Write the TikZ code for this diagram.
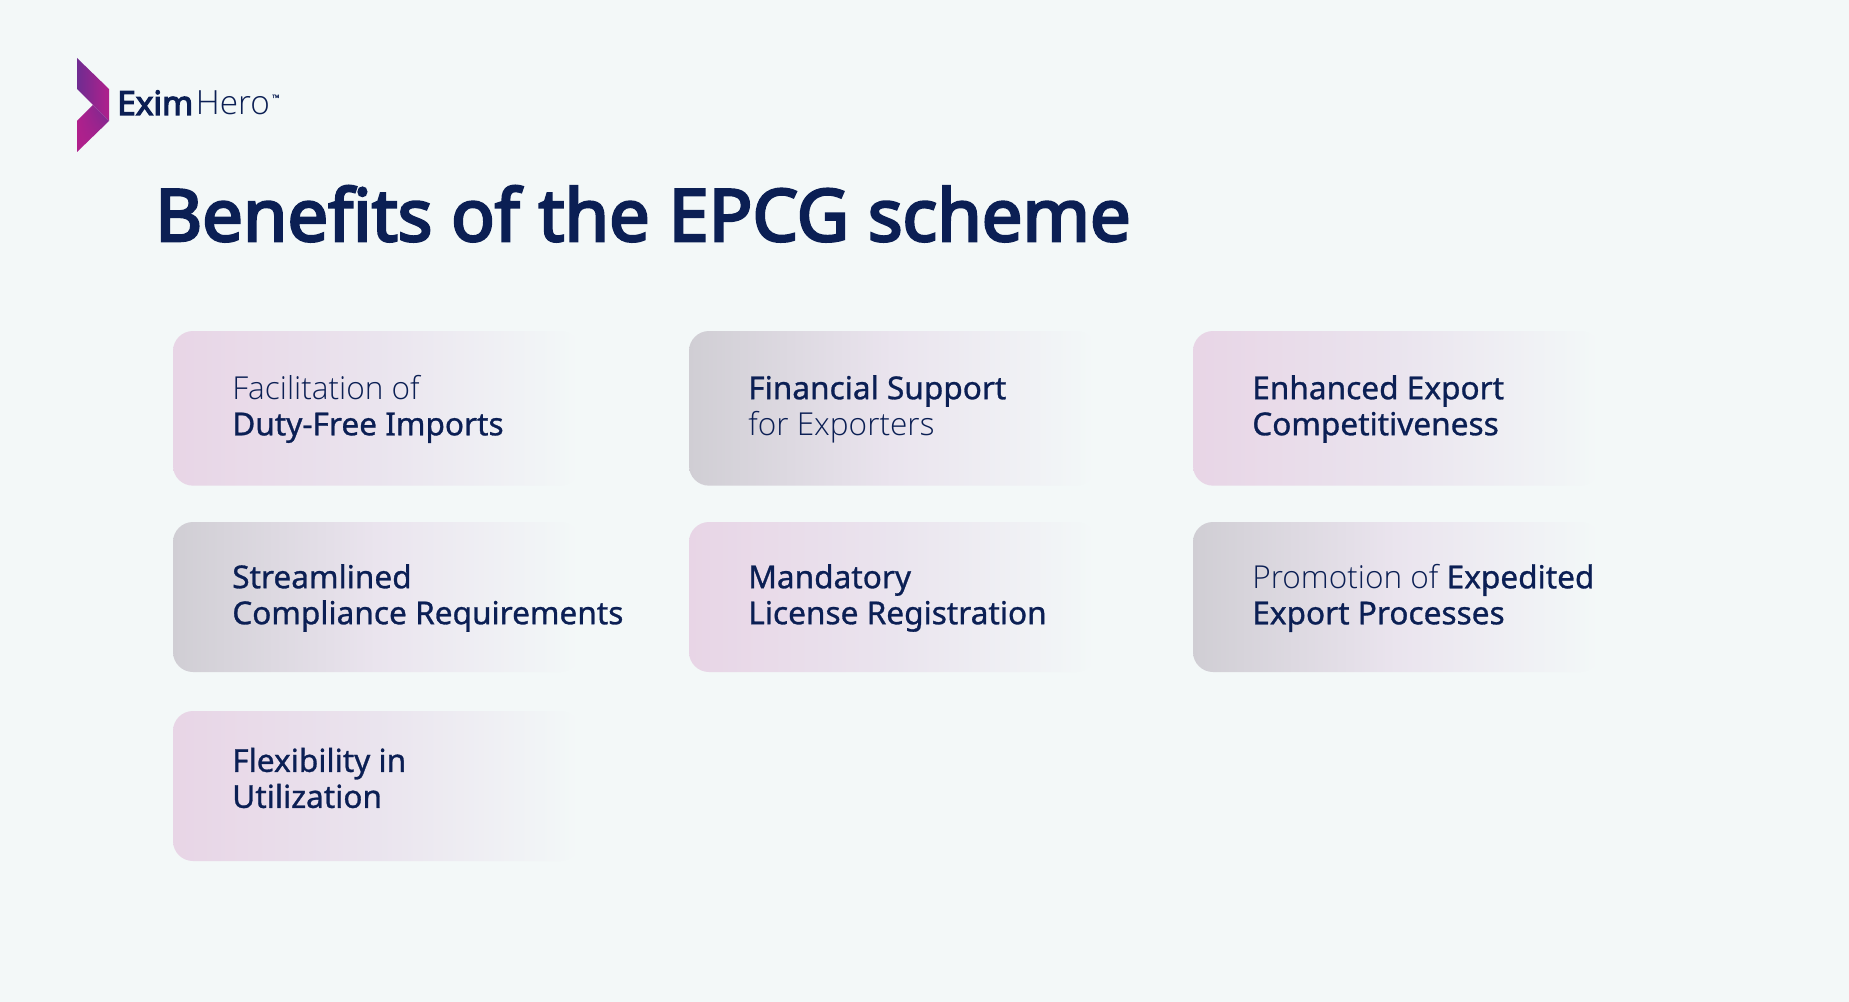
\documentclass[tikz,border=0pt]{standalone}
\usepackage{fontspec}
\usetikzlibrary{shadings}
\setmainfont{Noto Sans}
\newfontfamily\lightf{Open Sans Light}
\newfontfamily\medf[FakeBold=0.9]{Noto Sans}
\newfontfamily\semif[FakeBold=3.6]{Noto Sans}
\definecolor{bg}{HTML}{F3F8F8}
\definecolor{ink}{HTML}{0B1F54}
\definecolor{pinkl}{HTML}{E8D5E6}
\definecolor{grayl}{HTML}{D0CED4}
\definecolor{midl}{HTML}{EAE4EE}
\definecolor{magl}{HTML}{B0208C}
\definecolor{purl}{HTML}{6F2C91}
\pgfdeclarehorizontalshading{pinkfade}{100bp}{color(0bp)=(pinkl);color(25bp)=(pinkl);color(50bp)=(midl);color(75bp)=(bg);color(100bp)=(bg)}
\pgfdeclarehorizontalshading{grayfade}{100bp}{color(0bp)=(grayl);color(25bp)=(grayl);color(50bp)=(midl);color(75bp)=(bg);color(100bp)=(bg)}
\tikzset{
  cardbase/.style={anchor=north west,rectangle,rounded corners=15pt,minimum width=305.25pt,inner sep=0pt,outer sep=0pt},
  pinkcard/.style={cardbase,shade,shading=pinkfade},
  graycard/.style={cardbase,shade,shading=grayfade},
  cardtext/.style={anchor=west,align=left,inner sep=0pt,text=ink,font=\fontsize{23.7pt}{27pt}\selectfont},
}
\newcommand{\lt}[1]{{\lightf #1}}
\newcommand{\bd}[1]{{\medf #1}}
\begin{document}
\begin{tikzpicture}[x=0.75pt,y=-0.75pt]
\fill[bg] (0,0) rectangle (1849,1002);
\useasboundingbox (0,0) rectangle (1849,1002);
% logo
\shade[left color=purl,right color=magl] (77,58) -- (109,89) -- (109,121) -- (77,89) -- cycle;
\shade[lower left=magl,lower right=magl,upper left=magl,upper right=purl] (77,152) -- (77,121) -- (93,105) -- (109,121) -- cycle;
\node[anchor=base west,inner sep=0pt,text=ink,font=\fontsize{25pt}{25pt}\selectfont] (logo) at (117,115) {{\semif Exim}\hspace{2pt}\lt{Hero}};
\node[anchor=base west,inner sep=0pt,text=ink,font=\fontsize{3.5pt}{4pt}\selectfont] (tm) at (272,98) {\bd{TM}};
% title
\node[anchor=base west,inner sep=0pt,text=ink,font=\fontsize{54.15pt}{60pt}\selectfont] (title) at (155,241) {\semif Benefits of the EPCG scheme};
% cards
\node[pinkcard,minimum height=116pt] (c1) at (173,331) {};
\node[graycard,minimum height=116pt] (c2) at (689,331) {};
\node[pinkcard,minimum height=116pt] (c3) at (1193,331) {};
\node[graycard,minimum height=112.5pt] (c4) at (173,522) {};
\node[pinkcard,minimum height=112.5pt] (c5) at (689,522) {};
\node[graycard,minimum height=112.5pt] (c6) at (1193,522) {};
\node[pinkcard,minimum height=112.5pt] (c7) at (173,711) {};
\node[cardtext] (t1) at (232,409) {\lt{Facilitation of}\\\bd{Duty-Free Imports}};
\node[cardtext] (t2) at (748,409) {\bd{Financial Support}\\\lt{for Exporters}};
\node[cardtext] (t3) at (1252,409) {\bd{Enhanced Export}\\\bd{Competitiveness}};
\node[cardtext] (t4) at (232,598) {\bd{Streamlined}\\\bd{Compliance Requirements}};
\node[cardtext] (t5) at (748,598) {\bd{Mandatory}\\\bd{License Registration}};
\node[cardtext] (t6) at (1252,598) {\lt{Promotion of }\bd{Expedited}\\\bd{Export Processes}};
\node[cardtext] (t7) at (232,778) {\bd{Flexibility in}\\\bd{Utilization}};
\end{tikzpicture}
\end{document}
